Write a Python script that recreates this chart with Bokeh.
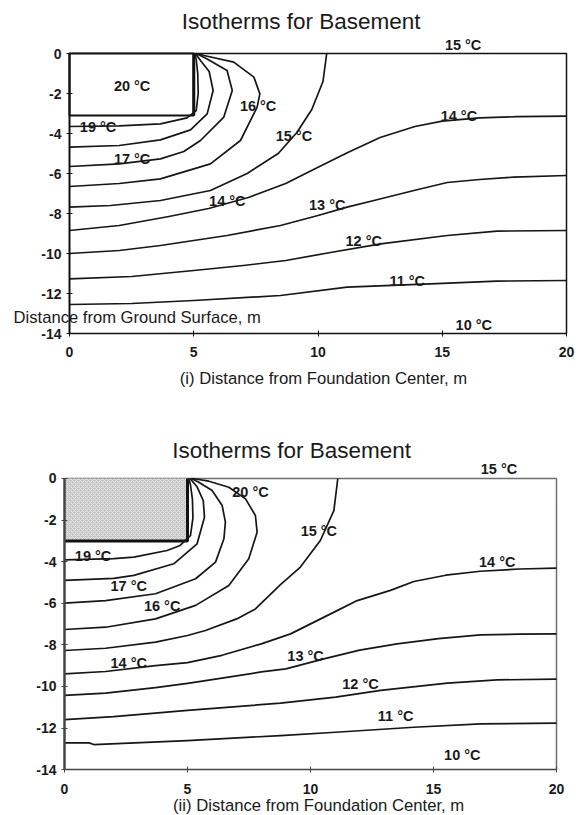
from bokeh.plotting import figure
from bokeh.models import Range1d, LabelSet, Label, ColumnDataSource, FixedTicker
from bokeh.layouts import column
from bokeh.core.properties import value
from bokeh.embed import file_html
from bokeh.resources import INLINE

FONT = "Liberation Sans"

# ---------------- shared ----------------
TITLE = "Isotherms for Basement"
X_TICKS = [0, 5, 10, 15, 20]
Y_TICKS = [0, -2, -4, -6, -8, -10, -12, -14]
Y_TICK_LABELS = ["0", "-2", "-4", "-6", "-8", "-10", "-12", "-14"]
BOX_W = 5
TOP_BOX_D = 3.1
BOT_BOX_D = 3.0

# ---------------- data: chart (i) ----------------
top_t19_x = [0, 2.0, 3.66, 4.73, 5.1, 5.18, 5.16, 5.1, 5.05]
top_t19_y = [-3.65, -3.62, -3.52, -3.22, -2.85, -2.0, -1.0, -0.3, 0]
top_t18_x = [0, 2.0, 3.66, 4.87, 5.54, 5.78, 5.62, 5.27, 5.07]
top_t18_y = [-4.68, -4.6, -4.32, -3.82, -3.02, -1.85, -0.9, -0.35, 0]
top_t17_x = [0, 2.0, 3.66, 4.6, 5.27, 6.21, 6.55, 6.34, 5.54, 5.1]
top_t17_y = [-5.65, -5.52, -5.27, -4.9, -4.35, -3.18, -1.85, -0.85, -0.27, 0]
top_t16_x = [0, 2.0, 3.66, 5.67, 6.88, 7.55, 7.66, 7.42, 6.61, 5.41, 5.15]
top_t16_y = [-6.65, -6.5, -6.27, -5.52, -4.35, -2.68, -2.02, -1.18, -0.43, -0.1, 0]
top_t15_x = [0, 1.65, 3.66, 5.67, 7.15, 8.4, 9.15, 9.75, 10.2, 10.35]
top_t15_y = [-7.68, -7.6, -7.35, -6.85, -6.0, -5.0, -3.95, -2.8, -1.4, 0]
top_t14_x = [0, 2.0, 4.0, 5.6, 7.2, 8.7, 9.9, 11.2, 12.5, 13.9, 15.0, 16.5, 18.0, 20]
top_t14_y = [-8.85, -8.6, -8.15, -7.75, -7.2, -6.5, -5.75, -4.95, -4.2, -3.65, -3.38, -3.22, -3.16, -3.13]
top_t13_x = [0, 2.0, 3.66, 5.0, 6.34, 8.49, 10.0, 11.17, 12.25, 13.86, 15.2, 16.5, 17.88, 20]
top_t13_y = [-10.0, -9.85, -9.6, -9.35, -9.1, -8.6, -8.1, -7.68, -7.35, -6.85, -6.45, -6.3, -6.18, -6.1]
top_t12_x = [0, 2.5, 5.0, 7.0, 8.7, 10.5, 12.52, 15.2, 17.2, 20]
top_t12_y = [-11.27, -11.15, -10.85, -10.6, -10.35, -9.95, -9.52, -9.1, -8.88, -8.85]
top_t11_x = [0, 2.5, 5.0, 8.49, 11.17, 14.52, 17.2, 20]
top_t11_y = [-12.55, -12.5, -12.35, -12.1, -11.68, -11.52, -11.38, -11.35]

top_lab_text = ["20 °C", "19 °C", "17 °C", "16 °C", "15 °C", "14 °C", "13 °C",
                "12 °C", "11 °C", "10 °C", "14 °C", "15 °C"]
top_lab_x = [2.52, 1.15, 2.52, 7.59, 9.03, 6.35, 10.37, 11.84, 13.59, 16.27, 15.67, 15.84]
top_lab_y = [-1.64, -3.68, -5.27, -2.64, -4.1, -7.35, -7.56, -9.39, -11.39, -13.56, -3.12, 0.42]

# ---------------- data: chart (ii) ----------------
bot_t19_x = [0, 2.0, 2.82, 4.17, 4.7, 5.12, 5.22, 5.2, 5.12, 5.05]
bot_t19_y = [-3.91, -3.85, -3.78, -3.46, -3.22, -2.75, -1.9, -1.0, -0.3, 0]
bot_t18_x = [0, 2.0, 2.82, 4.44, 5.39, 5.69, 5.64, 5.39, 5.1]
bot_t18_y = [-4.9, -4.8, -4.66, -4.1, -3.14, -1.86, -1.06, -0.4, 0]
bot_t17_x = [0, 1.67, 3.7, 5.33, 6.14, 6.48, 6.54, 6.41, 6.0, 5.46, 5.15]
bot_t17_y = [-5.99, -5.87, -5.54, -4.82, -4.02, -2.9, -2.1, -1.3, -0.58, -0.18, 0]
bot_t16_x = [0, 1.67, 3.7, 5.33, 6.68, 7.49, 7.83, 7.76, 7.36, 6.68, 5.87, 5.2]
bot_t16_y = [-7.26, -7.15, -6.75, -6.1, -5.14, -3.86, -2.58, -1.78, -0.98, -0.42, -0.13, 0]
bot_t15_x = [0, 1.67, 3.7, 5.0, 5.73, 7.0, 7.76, 8.78, 9.59, 10.4, 10.95, 11.11]
bot_t15_y = [-8.27, -8.16, -7.87, -7.55, -7.31, -6.75, -6.27, -5.1, -4.26, -2.98, -1.54, 0]
bot_t14_x = [0, 1.67, 3.7, 5.0, 6.4, 8.0, 9.19, 11.0, 11.9, 13.25, 14.2, 15.5, 16.9, 18.5, 20]
bot_t14_y = [-9.39, -9.28, -9.0, -8.85, -8.5, -7.95, -7.47, -6.4, -5.87, -5.38, -4.95, -4.65, -4.46, -4.35, -4.31]
bot_t13_x = [0, 1.67, 3.7, 5.0, 6.4, 8.0, 9.0, 10.54, 12.0, 13.52, 15.2, 16.91, 18.5, 20]
bot_t13_y = [-10.43, -10.32, -10.05, -9.85, -9.6, -9.3, -9.15, -8.67, -8.25, -7.95, -7.7, -7.52, -7.48, -7.47]
bot_t12_x = [0, 2.0, 5.0, 8.78, 11.02, 12.85, 15.56, 17.59, 20]
bot_t12_y = [-11.59, -11.45, -11.15, -10.8, -10.51, -10.19, -9.84, -9.68, -9.65]
bot_t11_x = [0, 1.0, 1.19, 5.0, 8.78, 11.02, 14.2, 16.91, 20]
bot_t11_y = [-12.71, -12.71, -12.79, -12.6, -12.36, -12.2, -11.96, -11.8, -11.76]

bot_lab_text = ["19 °C", "17 °C", "16 °C", "20 °C", "15 °C", "14 °C", "13 °C",
                "12 °C", "11 °C", "10 °C", "14 °C", "15 °C"]
bot_lab_x = [1.16, 2.61, 3.97, 7.56, 10.34, 2.61, 9.8, 12.03, 13.46, 16.17, 17.59, 17.66]
bot_lab_y = [-3.74, -5.18, -6.15, -0.66, -2.54, -8.87, -8.51, -9.87, -11.43, -13.28, -4.02, 0.45]

TOP_XLABEL = "(i) Distance from Foundation Center, m"
BOT_XLABEL = "(ii) Distance from Foundation Center, m"
TOP_YLABEL = "Distance from Ground Surface, m"

TOP_CURVES = [(top_t19_x, top_t19_y), (top_t18_x, top_t18_y), (top_t17_x, top_t17_y),
              (top_t16_x, top_t16_y), (top_t15_x, top_t15_y), (top_t14_x, top_t14_y),
              (top_t13_x, top_t13_y), (top_t12_x, top_t12_y), (top_t11_x, top_t11_y)]
BOT_CURVES = [(bot_t19_x, bot_t19_y), (bot_t18_x, bot_t18_y), (bot_t17_x, bot_t17_y),
              (bot_t16_x, bot_t16_y), (bot_t15_x, bot_t15_y), (bot_t14_x, bot_t14_y),
              (bot_t13_x, bot_t13_y), (bot_t12_x, bot_t12_y), (bot_t11_x, bot_t11_y)]

LINE_COLOR = "#161616"
TEXT_COLOR = "#1a1a1a"


def base_fig(height, xr, yr, frame_color, axis_color, left_w, tick_standoff):
    p = figure(width=579, height=height, x_range=Range1d(*xr), y_range=Range1d(*yr),
               output_backend="svg", toolbar_location=None, title=None,
               min_border_left=0, min_border_right=0, min_border_top=0, min_border_bottom=0)
    p.grid.visible = False
    p.background_fill_color = "white"
    p.border_fill_color = "white"
    p.outline_line_color = None
    p.xaxis.ticker = FixedTicker(ticks=X_TICKS)
    p.yaxis.ticker = FixedTicker(ticks=Y_TICKS)
    p.yaxis[0].major_label_overrides = {t: s for t, s in zip(Y_TICKS, Y_TICK_LABELS)}
    p.xaxis[0].fixed_location = Y_TICKS[-1]
    p.yaxis[0].fixed_location = X_TICKS[0]
    p.xaxis[0].bounds = (X_TICKS[0], X_TICKS[-1])
    p.yaxis[0].bounds = (Y_TICKS[-1], Y_TICKS[0])
    for ax in (p.xaxis[0], p.yaxis[0]):
        ax.axis_line_color = axis_color
        ax.major_tick_line_color = axis_color
        ax.major_tick_in = 3
        ax.major_tick_out = 3
        ax.minor_tick_line_color = None
        ax.major_label_text_font = FONT
        ax.major_label_text_font_style = "bold"
        ax.major_label_text_font_size = "14px"
        ax.major_label_text_color = TEXT_COLOR
    p.yaxis[0].axis_line_width = left_w
    p.xaxis[0].axis_line_width = 1.5
    p.yaxis[0].major_label_standoff = 5
    p.xaxis[0].major_label_standoff = tick_standoff
    # top and right edges of the plotting area
    p.line([X_TICKS[0], X_TICKS[-1], X_TICKS[-1]], [Y_TICKS[0], Y_TICKS[0], Y_TICKS[-1]],
           line_color=frame_color, line_width=1.5)
    return p


def add_curves(p, curves):
    for xs, ys in curves:
        p.line(xs, ys, line_color=LINE_COLOR, line_width=1.7, line_join="round")


def add_labels(p, xs, ys, texts):
    src = ColumnDataSource(dict(x=xs, y=ys, text=texts))
    p.add_layout(LabelSet(x="x", y="y", text="text", source=src,
                          text_font=value(FONT), text_font_style="bold",
                          text_font_size="14.5px", text_color=TEXT_COLOR,
                          text_align="center", text_baseline="middle"))


def add_text(p, x, y, text, size="16.7px", align="center"):
    p.add_layout(Label(x=x, y=y, text=text, text_font=FONT, text_font_size=size,
                       text_color=TEXT_COLOR, text_align=align, text_baseline="middle"))


# ---------------- chart (i) ----------------
p1 = base_fig(400, (-2.777, 20.523), (-17.35, 2.65), "#111111", "#111111", 2, 10)
p1.quad(left=0, right=BOX_W, top=0, bottom=-TOP_BOX_D, fill_color="white",
        line_color="#111111", line_width=2)
p1.line([BOX_W, BOX_W], [0, -TOP_BOX_D], line_color="#111111", line_width=3)
add_curves(p1, TOP_CURVES)
add_labels(p1, top_lab_x, top_lab_y, top_lab_text)
add_text(p1, 9.32, 1.6, TITLE, size="22.5px")
add_text(p1, 10.22, -16.25, TOP_XLABEL)
add_text(p1, -2.25, -13.2, TOP_YLABEL, size="16.6px", align="left")

# ---------------- chart (ii) ----------------
p2 = base_fig(415, (-2.602, 20.935), (-16.202, 3.75), "#6e6e6e", "#444444", 2.5, 11)
p2.quad(left=0, right=BOX_W, top=0, bottom=-BOT_BOX_D, fill_color="#c4c4c4",
        hatch_pattern="diagonal_cross", hatch_color="#e6e6e6", hatch_scale=4,
        hatch_weight=1, line_color=None)
p2.line([0, BOX_W, BOX_W], [-BOT_BOX_D, -BOT_BOX_D, 0], line_color="#111111", line_width=3)
add_curves(p2, BOT_CURVES)
add_labels(p2, bot_lab_x, bot_lab_y, bot_lab_text)
add_text(p2, 9.23, 1.37, TITLE, size="22.5px")
add_text(p2, 10.33, -15.72, BOT_XLABEL)

layout = column(p1, p2)
open("out.html", "w").write(file_html(layout, INLINE))
